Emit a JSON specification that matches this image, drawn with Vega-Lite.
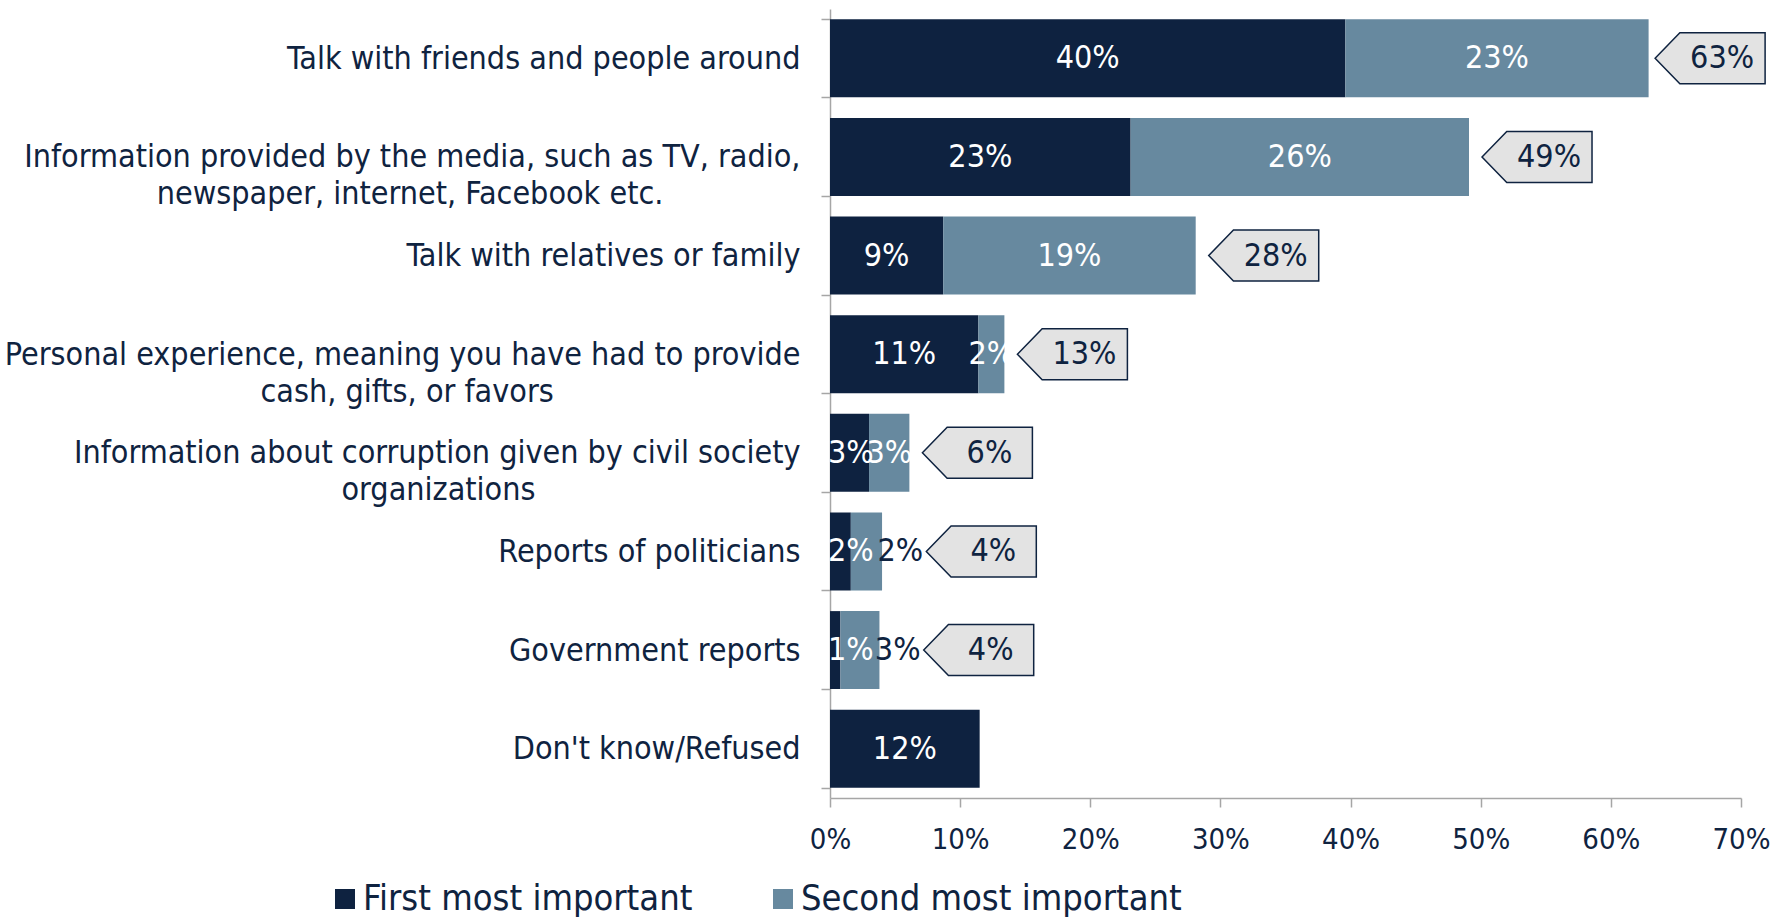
{
  "$schema": "https://vega.github.io/schema/vega-lite/v6.json",
  "width": 911,
  "height": 789,
  "autosize": "none",
  "padding": {"left": 830, "top": 9, "right": 46, "bottom": 123},
  "background": "white",
  "config": {
    "view": {"stroke": null},
    "font": "DejaVu Sans Condensed, Liberation Sans Narrow, Roboto, sans-serif"
  },
  "data": {
    "values": [
      {"category": "Talk with friends and people around", "series": "First most important", "value": 39.6},
      {"category": "Talk with friends and people around", "series": "Second most important", "value": 23.3},
      {"category": "Information provided by the media, such as TV, radio,\nnewspaper, internet, Facebook etc.", "series": "First most important", "value": 23.1},
      {"category": "Information provided by the media, such as TV, radio,\nnewspaper, internet, Facebook etc.", "series": "Second most important", "value": 26.0},
      {"category": "Talk with relatives or family", "series": "First most important", "value": 8.7},
      {"category": "Talk with relatives or family", "series": "Second most important", "value": 19.4},
      {"category": "Personal experience, meaning you have had to provide\ncash, gifts, or favors", "series": "First most important", "value": 11.4},
      {"category": "Personal experience, meaning you have had to provide\ncash, gifts, or favors", "series": "Second most important", "value": 2.0},
      {"category": "Information about corruption given by civil society\norganizations", "series": "First most important", "value": 3.0},
      {"category": "Information about corruption given by civil society\norganizations", "series": "Second most important", "value": 3.1},
      {"category": "Reports of politicians", "series": "First most important", "value": 1.6},
      {"category": "Reports of politicians", "series": "Second most important", "value": 2.4},
      {"category": "Government reports", "series": "First most important", "value": 0.8},
      {"category": "Government reports", "series": "Second most important", "value": 3.0},
      {"category": "Don't know/Refused", "series": "First most important", "value": 11.5}
    ]
  },
  "transform": [
    {"stack": "value", "groupby": ["category"], "sort": [{"field": "series", "order": "ascending"}], "as": ["x0", "x1"]},
    {"joinaggregate": [{"op": "sum", "field": "value", "as": "total"}], "groupby": ["category"]},
    {"calculate": "datum.series == 'Second most important' && indexof(['Reports of politicians', 'Government reports'], datum.category) >= 0", "as": "outside"},
    {"calculate": "datum.outside ? datum.x1 + 1.4 : (datum.series == 'First most important' ? max((datum.x0 + datum.x1) / 2, 1.6) : (datum.x0 + datum.x1) / 2)", "as": "labelX"},
    {"calculate": "format(datum.value, '.0f') + '%'", "as": "label"},
    {"calculate": "format(datum.total, '.0f') + '%'", "as": "totalLabel"},
    {"calculate": "datum.total + (indexof(['Reports of politicians', 'Government reports'], datum.category) >= 0 ? 3.4 : (datum.total > 60 ? 0.5 : 1.0))", "as": "calloutX"}
  ],
  "encoding": {
    "y": {
      "field": "category",
      "type": "nominal",
      "sort": null,
      "scale": {"paddingInner": 0.21, "paddingOuter": 0.105},
      "axis": {
        "title": null,
        "labelExpr": "indexof(datum.label, '\\n') < 0 ? datum.label : [split(datum.label, '\\n')[0], pad(split(datum.label, '\\n')[1], length(split(datum.label, '\\n')[1]) + (indexof(datum.label, 'Facebook') >= 0 ? 15 : (indexof(datum.label, 'favors') >= 0 ? 27 : 29)), '\u00a0') + '\u200b']",
        "labelFontSize": 32,
        "labelColor": "#0f2340",
        "labelLineHeight": 37,
        "labelLimit": 900,
        "labelPadding": 21,
        "tickBand": "extent",
        "tickSize": 9,
        "tickColor": "#a6a6a6",
        "domainColor": "#a6a6a6",
        "domainWidth": 1.5,
        "tickWidth": 1.5
      }
    }
  },
  "layer": [
    {
      "mark": {"type": "bar"},
      "encoding": {
        "x": {
          "field": "x0",
          "type": "quantitative",
          "scale": {"domain": [0, 70], "nice": false},
          "axis": {
            "title": null,
            "values": [0, 10, 20, 30, 40, 50, 60, 70],
            "labelExpr": "datum.value + '%'",
            "labelFontSize": 29,
            "labelFlush": false,
            "labelColor": "#0f2340",
            "labelPadding": 18,
            "grid": false,
            "tickSize": 9,
            "tickColor": "#a6a6a6",
            "domainColor": "#a6a6a6",
            "domainWidth": 1.5,
            "tickWidth": 1.5
          }
        },
        "x2": {"field": "x1"},
        "color": {
          "field": "series",
          "type": "nominal",
          "scale": {"domain": ["First most important", "Second most important"], "range": ["#0e2240", "#67899f"]},
          "legend": {
            "title": null,
            "orient": "none",
            "direction": "horizontal",
            "legendX": -503,
            "legendY": 872,
            "symbolType": "square",
            "symbolSize": 400,
            "symbolStrokeWidth": 0,
            "symbolOpacity": 1,
            "labelFontSize": 36,
            "labelColor": "#0f2340",
            "labelOffset": 0,
            "columnPadding": 72,
            "labelLimit": 600
          }
        }
      }
    },
    {
      "mark": {"type": "text", "fontSize": 32, "align": "center", "baseline": "middle"},
      "encoding": {
        "x": {"field": "labelX", "type": "quantitative"},
        "text": {"field": "label"},
        "color": {"condition": {"test": "datum.outside", "value": "#0f2340"}, "value": "#ffffff"}
      }
    },
    {
      "transform": [{"filter": "datum.series == 'First most important' && datum.total > datum.value"}],
      "mark": {
        "type": "point",
        "shape": "M -1 0 L -0.55 -0.464 L 1 -0.464 L 1 0.464 L -0.55 0.464 Z",
        "size": 12100,
        "filled": true,
        "fill": "#e3e3e3",
        "stroke": "#0f2340",
        "strokeWidth": 1.5,
        "opacity": 1,
        "xOffset": 55
      },
      "encoding": {
        "x": {"field": "calloutX", "type": "quantitative"}
      }
    },
    {
      "transform": [{"filter": "datum.series == 'First most important' && datum.total > datum.value"}],
      "mark": {"type": "text", "fontSize": 32, "align": "center", "baseline": "middle", "color": "#0f2340", "xOffset": 67},
      "encoding": {
        "x": {"field": "calloutX", "type": "quantitative"},
        "text": {"field": "totalLabel"}
      }
    }
  ]
}
